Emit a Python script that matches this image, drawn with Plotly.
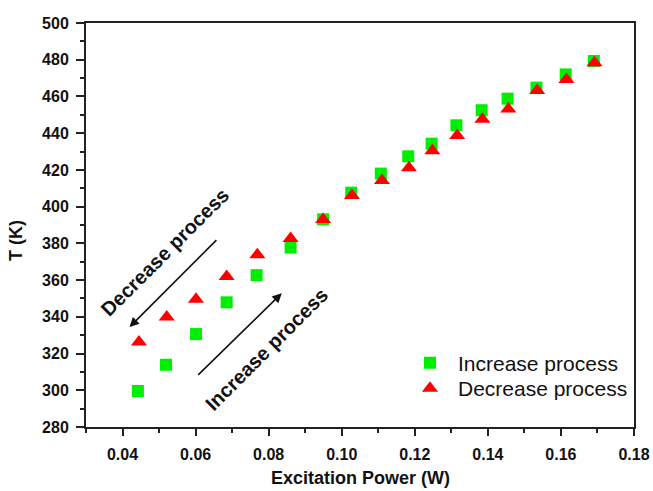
import plotly.graph_objects as go

power_inc = [0.0442, 0.0519, 0.0601, 0.0685, 0.0767, 0.0860, 0.0949, 0.1026, 0.1107, 0.1182,
             0.1246, 0.1314, 0.1383, 0.1454, 0.1533, 0.1613, 0.1690]
temp_inc = [299.6, 313.9, 330.6, 347.9, 362.7, 377.7, 393.1, 407.6, 418.0, 427.4,
            434.3, 444.3, 452.5, 458.8, 464.8, 472.0, 479.3]

power_dec = [0.0445, 0.0521, 0.0601, 0.0685, 0.0769, 0.0860, 0.0949, 0.1028, 0.1110, 0.1184,
             0.1248, 0.1316, 0.1385, 0.1456, 0.1535, 0.1615, 0.1692]
temp_dec = [326.3, 339.9, 349.6, 361.9, 373.8, 382.6, 393.0, 406.0, 414.3, 421.2,
            430.5, 438.8, 447.6, 453.2, 463.2, 469.3, 478.4]

x_ticks = [0.04, 0.06, 0.08, 0.10, 0.12, 0.14, 0.16, 0.18]
y_ticks = [280, 300, 320, 340, 360, 380, 400, 420, 440, 460, 480, 500]

FONT = "Liberation Sans, Arial, sans-serif"

fig = go.Figure()
fig.add_trace(go.Scatter(
    x=power_inc, y=temp_inc, mode="markers", name="Increase process", legend="legend",
    marker=dict(symbol="square", size=12, color="#00ee00", line=dict(width=0)),
))
fig.add_trace(go.Scatter(
    x=power_dec, y=temp_dec, mode="markers", name="Decrease process", legend="legend2",
    marker=dict(symbol="triangle-up", size=14, color="#ff0000", line=dict(width=0)),
))

axis_common = dict(
    showgrid=False, zeroline=False, showline=True, linecolor="#222222", linewidth=2,
    mirror=True, ticks="outside", tickcolor="#222222", tickwidth=2, automargin=False,
    tickfont=dict(family=FONT, size=16, color="#111111", weight="bold"),
)

fig.update_xaxes(
    range=[0.03, 0.18], tickvals=x_ticks, ticktext=[f"{v:.2f}" for v in x_ticks],
    ticklen=7, ticklabelstandoff=5,
    minor=dict(dtick=0.01, tick0=0.03, ticks="outside", ticklen=4, tickcolor="#222222", tickwidth=2),
    **axis_common,
)
fig.update_yaxes(
    range=[280, 500], tickvals=y_ticks, ticktext=[str(v) for v in y_ticks],
    ticklen=8, ticklabelstandoff=4,
    minor=dict(dtick=10, tick0=280, ticks="outside", ticklen=4, tickcolor="#222222", tickwidth=2),
    **axis_common,
)

annot_font = dict(family=FONT, size=20, color="#111111", weight="bold")

fig.add_annotation(x=0.0516, y=375.5, xref="x", yref="y", text="Decrease process",
                   textangle=-45, showarrow=False, font=annot_font)
fig.add_annotation(x=0.0795, y=322.3, xref="x", yref="y", text="Increase process",
                   textangle=-45, showarrow=False, font=annot_font)

# arrows (head at x,y ; tail at ax,ay)
fig.add_annotation(x=0.0419, y=334.4, ax=0.0661, ay=382.6, xref="x", yref="y",
                   axref="x", ayref="y", text="", showarrow=True, arrowhead=2,
                   arrowsize=1.2, arrowwidth=1.6, arrowcolor="#111111")
fig.add_annotation(x=0.0836, y=352.9, ax=0.0603, ay=307.6, xref="x", yref="y",
                   axref="x", ayref="y", text="", showarrow=True, arrowhead=2,
                   arrowsize=1.2, arrowwidth=1.6, arrowcolor="#111111")

# axis titles
fig.add_annotation(x=0.5, y=-0.127, xref="paper", yref="paper", text="Excitation Power (W)",
                   showarrow=False, xanchor="center", yanchor="middle",
                   font=dict(family=FONT, size=18, color="#111111", weight="bold"))
fig.add_annotation(x=-0.1265, y=0.462, xref="paper", yref="paper", text="T (K)",
                   textangle=-90, showarrow=False, xanchor="center", yanchor="middle",
                   font=dict(family=FONT, size=18, color="#111111", weight="bold"))

legend_common = dict(bgcolor="rgba(0,0,0,0)", borderwidth=0,
                     font=dict(family=FONT, size=21, color="#111111"),
                     itemwidth=46, xanchor="left", yanchor="middle")

fig.update_layout(
    width=653, height=491,
    margin=dict(l=86, r=19, t=23, b=64, autoexpand=False),
    paper_bgcolor="white", plot_bgcolor="white",
    showlegend=True,
    legend=dict(x=0.5766, y=0.1584, **legend_common),
    legend2=dict(x=0.5766, y=0.0950, **legend_common),
)

fig.write_html("out.html", config={"displayModeBar": False},
               post_script="document.body.style.margin='0px';")
